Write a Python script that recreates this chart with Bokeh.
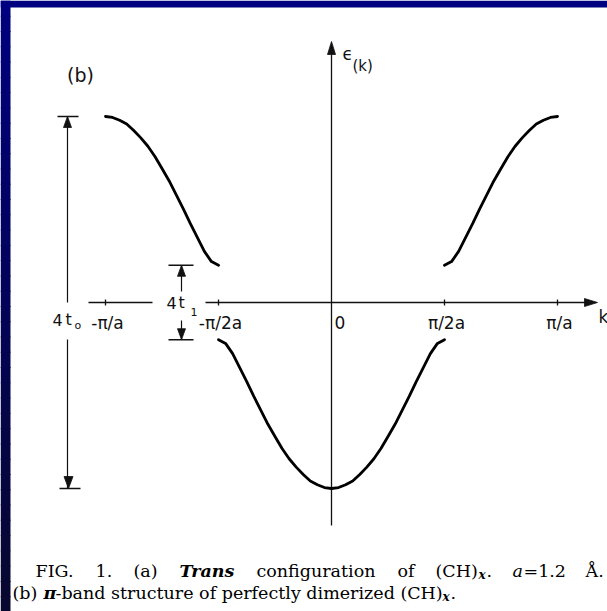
from bokeh.plotting import figure
from bokeh.models import Range1d
from bokeh.core.properties import value
from bokeh.embed import file_html
from bokeh.resources import INLINE

# Band structure of dimerized (CH)x: wave number k in units of pi/a, energy in units of t0
k_upper_left = [-1.0, -0.96875, -0.9375, -0.90625, -0.875, -0.84375, -0.8125, -0.78125, -0.75,
                -0.71875, -0.6875, -0.65625, -0.625, -0.59375, -0.5625, -0.53125, -0.5]
e_upper_left = [2.00, 1.99, 1.96, 1.92, 1.85, 1.77, 1.68, 1.57, 1.44,
                1.31, 1.16, 1.01, 0.85, 0.70, 0.55, 0.44, 0.40]
k_upper_right = [0.5, 0.53125, 0.5625, 0.59375, 0.625, 0.65625, 0.6875, 0.71875, 0.75,
                 0.78125, 0.8125, 0.84375, 0.875, 0.90625, 0.9375, 0.96875, 1.0]
e_upper_right = [0.40, 0.44, 0.55, 0.70, 0.85, 1.01, 1.16, 1.31, 1.44,
                 1.57, 1.68, 1.77, 1.85, 1.92, 1.96, 1.99, 2.00]
k_lower = [-0.5, -0.46875, -0.4375, -0.40625, -0.375, -0.34375, -0.3125, -0.28125, -0.25,
           -0.21875, -0.1875, -0.15625, -0.125, -0.09375, -0.0625, -0.03125, 0.0,
           0.03125, 0.0625, 0.09375, 0.125, 0.15625, 0.1875, 0.21875, 0.25,
           0.28125, 0.3125, 0.34375, 0.375, 0.40625, 0.4375, 0.46875, 0.5]
e_lower = [-0.40, -0.44, -0.55, -0.70, -0.85, -1.01, -1.16, -1.31, -1.44,
           -1.57, -1.68, -1.77, -1.85, -1.92, -1.96, -1.99, -2.00,
           -1.99, -1.96, -1.92, -1.85, -1.77, -1.68, -1.57, -1.44,
           -1.31, -1.16, -1.01, -0.85, -0.70, -0.55, -0.44, -0.40]

tick_k = [-1.0, -0.5, 0.5, 1.0]
tick_labels = ["-π/a", "-π/2a", "π/2a", "π/a"]

# caption pieces: (text, left edge px, line, style); the first line is justified
caption_pieces = [
    ("FIG.", 35, 1, "normal"),
    ("1.", 95, 1, "normal"),
    ("(a)", 133, 1, "normal"),
    ("Trans", 179, 1, "bold italic"),
    ("configuration", 256, 1, "normal"),
    ("of", 397, 1, "normal"),
    ("(CH)", 435, 1, "normal"),
    ("x", 478, 1, "sub"),
    (".", 486, 1, "normal"),
    ("a", 512, 1, "italic"),
    ("=1.2", 523, 1, "normal"),
    ("Å.", 585, 1, "normal"),
    ("(b)", 12, 2, "normal"),
    ("π", 43, 2, "bold italic"),
    ("-band structure of perfectly dimerized (CH)", 55, 2, "normal"),
    ("x", 442, 2, "sub"),
    (".", 450, 2, "normal"),
]

W, H = 607, 611
# page layout: origin of the k/E axes on the page and the scale (px per unit)
X0, SX = 331.0, 226.0
Y0, SY = 302.0, 93.0


def kx(px):
    return (px - X0) / SX


def ey(py):
    return (Y0 - py) / SY


p = figure(width=W, height=H, x_range=Range1d(kx(0), kx(W)), y_range=Range1d(ey(H), ey(0)),
           toolbar_location=None, output_backend="svg", min_border=0,
           x_axis_type=None, y_axis_type=None, outline_line_color=None,
           background_fill_color="white", border_fill_color="white")
p.grid.visible = False

# navy frame: solid top band, left band darkening downward
p.quad(left=[kx(0)], right=[kx(W)], top=[ey(0)], bottom=[ey(7)], fill_color="#000080", line_color=None)
n = 40
for i in range(n):
    t = i / (n - 1)
    r = int(8 * t)
    g = int(8 * t)
    b = int(128 - 80 * t)
    p.quad(left=[kx(0)], right=[kx(10)], top=[ey(H * i / n)], bottom=[ey(H * (i + 1) / n) - 0.01],
           fill_color=(r, g, b), line_color=None)

INK = "#111111"


def head(tip_px, tip_py, dx, dy, length, width):
    # filled triangular arrow head, tip at (tip_px, tip_py), pointing along (dx, dy)
    bx, by = tip_px - dx * length, tip_py - dy * length
    nx, ny = -dy, dx
    xs = [tip_px, bx + nx * width / 2, bx - nx * width / 2]
    ys = [tip_py, by + ny * width / 2, by - ny * width / 2]
    return [kx(v) for v in xs], [ey(v) for v in ys]


heads = []

# coordinate axes
p.segment(x0=[kx(88), kx(205)], y0=[0, 0], x1=[kx(152), kx(590)], y1=[0, 0], line_color=INK, line_width=1.3)
heads.append(head(597, Y0, 1, 0, 13, 8))
p.segment(x0=[0], y0=[ey(525)], x1=[0], y1=[ey(50)], line_color=INK, line_width=1.3)
heads.append(head(X0, 41, 0, -1, 13, 8))

# tick marks on the k axis
p.segment(x0=tick_k, y0=[ey(Y0 + 3)] * 4, x1=tick_k, y1=[ey(Y0 - 3)] * 4, line_color=INK, line_width=1.3)

# band curves
for ks, es in [(k_upper_left, e_upper_left), (k_upper_right, e_upper_right), (k_lower, e_lower)]:
    p.line(ks, es, line_color="black", line_width=2.8, line_cap="round", line_join="round")

# total band width 4t0
e_top = max(e_upper_left)
e_bot = min(e_lower)
gap_hi = min(e_upper_left)
gap_lo = max(e_lower)
xa = kx(67)
p.segment(x0=[kx(57), kx(59)], y0=[e_top, e_bot], x1=[kx(78), kx(80)], y1=[e_top, e_bot], line_color=INK, line_width=1.4)
p.segment(x0=[xa, xa], y0=[e_top, ey(339)], x1=[xa, xa], y1=[0, e_bot], line_color=INK, line_width=1.2)
heads.append(head(67, Y0 - e_top * SY, 0, -1, 11, 8))
heads.append(head(68, Y0 - e_bot * SY, 0, 1, 12, 9))

# gap 4t1
xg = kx(181)
p.segment(x0=[kx(168), kx(168)], y0=[gap_hi, gap_lo], x1=[kx(193), kx(193)], y1=[gap_hi, gap_lo], line_color=INK, line_width=1.4)
p.segment(x0=[xg, xg], y0=[gap_hi, ey(320)], x1=[xg, xg], y1=[ey(291), gap_lo], line_color=INK, line_width=1.2)
heads.append(head(181, Y0 - gap_hi * SY, 0, -1, 11, 8))
heads.append(head(181, Y0 - gap_lo * SY, 0, 1, 11, 8))

p.patches(xs=[h[0] for h in heads], ys=[h[1] for h in heads], fill_color=INK, line_color=INK, line_width=0.8)

SANS = value("DejaVu Sans")
# tick labels
p.text(x=tick_k, y=[ey(322)] * 4, text=tick_labels, x_offset=2, text_align="center", text_baseline="middle",
       text_font=SANS, text_font_size="17px", text_color=INK)
p.text(x=[0], y=[ey(322)], text=["0"], x_offset=3, text_align="left", text_baseline="middle",
       text_font=SANS, text_font_size="17px", text_color=INK)
p.text(x=[kx(598)], y=[ey(316)], text=["k"], text_align="left", text_baseline="middle",
       text_font=SANS, text_font_size="17px", text_color=INK)

# axis name and panel label
p.text(x=[kx(342)], y=[ey(53)], text=["ϵ"], text_align="left", text_baseline="middle",
       text_font=SANS, text_font_size="17px", text_color=INK)
p.text(x=[kx(352)], y=[ey(65)], text=["(k)"], text_align="left", text_baseline="middle",
       text_font=SANS, text_font_size="15px", text_color=INK)
p.text(x=[kx(80)], y=[ey(74)], text=["(b)"], text_align="center", text_baseline="middle",
       text_font=SANS, text_font_size="19px", text_color=INK)

# dimension labels, lettered with wide spacing
dim_chars = [("4", 52, 319, "16px"), ("t", 65, 319, "16px"), ("o", 74, 325, "11px"),
             ("4", 166, 302, "16px"), ("t", 178, 302, "16px"), ("1", 190, 311, "11px")]
for ch, px, py, fs in dim_chars:
    p.text(x=[kx(px)], y=[ey(py)], text=[ch], text_align="left", text_baseline="middle",
           text_font=SANS, text_font_size=fs, text_color=INK)

# caption
SERIF = value("DejaVu Serif")
line_base = {1: 570, 2: 592}
for txt, px, line, style in caption_pieces:
    base = line_base[line]
    if style == "sub":
        p.text(x=[kx(px)], y=[ey(base + 4)], text=[txt], text_align="left", text_baseline="alphabetic",
               text_font=SERIF, text_font_size="12px", text_font_style="bold italic", text_color="black")
    else:
        p.text(x=[kx(px)], y=[ey(base)], text=[txt], text_align="left", text_baseline="alphabetic",
               text_font=SERIF, text_font_size="17.5px", text_font_style=style, text_color="black")

open("out.html", "w").write(file_html(p, INLINE))
